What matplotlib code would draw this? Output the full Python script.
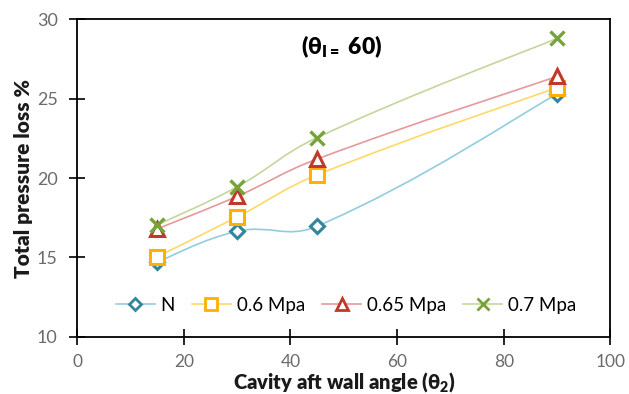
import numpy as np
import matplotlib
matplotlib.use("Agg")
import matplotlib.pyplot as plt
from matplotlib.path import Path
from matplotlib.patches import PathPatch
from matplotlib.lines import Line2D

plt.rcParams['font.family'] = ['Lato', 'DejaVu Sans']

angles = [15, 30, 45, 90]
series_names = ["N", "0.6 Mpa", "0.65 Mpa", "0.7 Mpa"]
loss_N = [14.7, 16.65, 16.97, 25.3]
loss_060 = [15.05, 17.55, 20.2, 25.7]
loss_065 = [16.8, 18.85, 21.2, 26.4]
loss_070 = [17.05, 19.45, 22.55, 28.8]

line_colors = ["#93cddd", "#ffd966", "#e6999b", "#c4d79b"]
marker_colors = ["#31859c", "#ffb000", "#c0392b", "#77a33a"]
markers = ["D", "s", "^", "x"]
msizes = [7, 10, 10, 10]
leg_msizes = [6, 8.5, 8.5, 9]

fig = plt.figure(figsize=(6.29, 3.94), dpi=100)
ax = fig.add_axes([0.1225, 0.145, 0.848, 0.806])
ax.set_xlim(0, 100)
ax.set_ylim(10, 30)


def smooth_path(x, y, k=0.42):
    pts = np.column_stack([x, y]).astype(float)
    disp = ax.transData.transform(pts)
    n = len(pts)
    verts = [pts[0]]
    codes = [Path.MOVETO]
    for i in range(n - 1):
        p1, p2 = pts[i], pts[i + 1]
        d12 = np.linalg.norm(disp[i + 1] - disp[i])
        if i > 0:
            d01 = np.linalg.norm(disp[i] - disp[i - 1])
            c1 = p1 + k * d12 / (d01 + d12) * (p2 - pts[i - 1])
        else:
            c1 = p1 + (p2 - p1) / 6.0
        if i + 2 < n:
            d23 = np.linalg.norm(disp[i + 2] - disp[i + 1])
            c2 = p2 - k * d12 / (d12 + d23) * (pts[i + 2] - p1)
        else:
            c2 = p2 - (p2 - p1) / 6.0
        verts += [c1, c2, p2]
        codes += [Path.CURVE4] * 3
    return Path(verts, codes)


all_series = [loss_N, loss_060, loss_065, loss_070]
handles = []
for vals, name, lc, mc, m, ms, lms in zip(all_series, series_names, line_colors, marker_colors, markers, msizes, leg_msizes):
    patch = PathPatch(smooth_path(angles, vals), facecolor="none", edgecolor=lc, lw=1.2, zorder=2)
    ax.add_patch(patch)
    mew = 2.2 if m != "x" else 2.4
    ax.plot(angles, vals, linestyle="none", marker=m, markersize=ms, markerfacecolor="white" if m != "x" else mc,
            markeredgecolor=mc, markeredgewidth=mew, zorder=3)
    handles.append(Line2D([0], [0], color=lc, lw=1.2, marker=m, markersize=lms,
                          markerfacecolor="white", markeredgecolor=mc, markeredgewidth=2.0))

ax.set_xticks([0, 20, 40, 60, 80, 100])
ax.set_yticks([10, 15, 20, 25, 30])
ax.tick_params(direction="inout", length=12, width=1.2, labelsize=13, colors="black")
ax.tick_params(axis="x", labelcolor="#6b6b6b", pad=6, labelsize=12.5)
ax.tick_params(axis="y", labelcolor="#6b6b6b", pad=8)
for s in ax.spines.values():
    s.set_linewidth(1.3)

ax.set_xlabel(r"Cavity aft wall angle (θ$\mathregular{_2}$)", fontsize=14.5, fontweight="heavy", labelpad=0, color="#1a1a1a")
ax.set_ylabel("Total pressure loss %", fontsize=15, fontweight="heavy", labelpad=3, color="#1a1a1a")

ax.text(49.6, 28.25, r"(θ$\mathregular{_{I=}}$ 60)", fontsize=16.5, fontweight="heavy", ha="center", va="center")

ax.legend(handles=handles, labels=series_names, loc="center", bbox_to_anchor=(0.504, 0.10), ncol=4, frameon=False,
          fontsize=13.5, handlelength=2.1, columnspacing=0.9, handletextpad=0.3)

fig.savefig("out.png", dpi=100)
